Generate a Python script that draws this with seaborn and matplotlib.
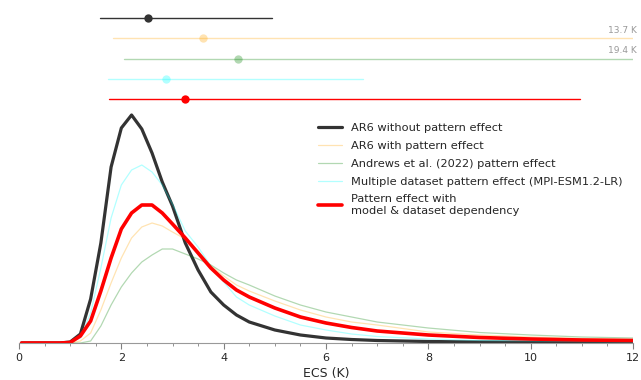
import seaborn as sns
import pandas as pd
import numpy as np
import matplotlib.pyplot as plt

sns.set_style("white")

# ECS grid (K) and pdfs (arbitrary units)
ecs = [0.05, 0.8, 1.0, 1.2, 1.4, 1.6, 1.8, 2.0, 2.2, 2.4, 2.6, 2.8, 3.0, 3.25, 3.5,
       3.75, 4.0, 4.25, 4.5, 5.0, 5.5, 6.0, 6.5, 7.0, 8.0, 9.0, 10.0, 11.0, 12.0]
ar6_no_pattern = [0, 0, 1, 9, 44, 100, 176, 215, 228, 214, 190, 161, 137, 100, 73,
                  51, 38, 28, 21, 13, 8, 5, 3.5, 2.5, 1.5, 1, 0.8, 0.6, 0.5]
ar6_pattern = [0, 0, 0, 2, 10, 33, 60, 85, 105, 116, 120, 117, 111, 104, 92,
               77, 67, 58, 52, 42, 33, 26, 21, 18, 11, 8, 6, 4.5, 3.5]
andrews = [0, 0, 0, 0, 2, 17, 38, 56, 70, 81, 88, 94, 94, 89, 84,
           78, 70, 63, 58, 47, 38, 31, 26, 21, 15, 10.5, 8, 6, 5]
multi_dataset = [0, 0, 0.5, 5, 30, 75, 125, 158, 173, 178, 171, 158, 139, 112, 96,
                 77, 61, 46, 38, 27, 18, 13, 9, 6.5, 4, 2.5, 2, 1.5, 1]
model_dataset = [0, 0, 0.5, 7, 22, 52, 85, 114, 130, 138, 138, 130, 119, 105, 90,
                 75, 63, 53, 46, 35, 26, 20, 15.5, 12, 8, 5.5, 4, 3, 2.5]

labels = ["AR6 without pattern effect",
          "AR6 with pattern effect",
          "Andrews et al. (2022) pattern effect",
          "Multiple dataset pattern effect (MPI-ESM1.2-LR)",
          "Pattern effect with\nmodel & dataset dependency"]

# median and 5-95% ranges (K)
medians = [2.52, 3.59, 4.28, 2.87, 3.24]
lows = [1.58, 1.84, 2.05, 1.74, 1.76]
highs = [4.94, 13.7, 19.4, 6.72, 10.96]

colors = ["#333333", "orange", "green", "cyan", "red"]
alphas = [1, 0.3, 0.3, 0.3, 1]
widths = [2.3, 0.9, 0.9, 0.9, 2.6]

df = pd.DataFrame({"ecs": ecs, labels[0]: ar6_no_pattern, labels[1]: ar6_pattern,
                   labels[2]: andrews, labels[3]: multi_dataset, labels[4]: model_dataset})
df = df.melt(id_vars="ecs", var_name="case", value_name="pdf")

fig = plt.figure(figsize=(6.41, 3.80), dpi=100)
ax = fig.add_axes([19/641, 37/380, 614/641, 233/380])
ax_top = fig.add_axes([19/641, 271/380, 614/641, 101/380], sharex=ax)

for lab, c, a, w in zip(labels, colors, alphas, widths):
    sns.lineplot(data=df[df["case"] == lab], x="ecs", y="pdf", color=c, alpha=a,
                 lw=w, label=lab, ax=ax)

ax.set_xlim(0, 12)
ax.set_ylim(0, 233)
ax.set_xticks(np.arange(0, 13, 2))
ax.set_xticks(np.arange(0, 12.5, 0.5), minor=True)
ax.tick_params(axis="x", which="major", bottom=True, length=4, color="0.5",
               labelsize=8, pad=3)
ax.tick_params(axis="x", which="minor", bottom=True, length=2, color="0.5")
ax.set_yticks([])
ax.set_ylabel("")
ax.set_xlabel("ECS (K)", fontsize=9, labelpad=3)
for s in ["left", "right", "top"]:
    ax.spines[s].set_visible(False)
ax.spines["bottom"].set_color("0.6")

leg = ax.legend(loc="upper left", bbox_to_anchor=(0.4797, 0.962), frameon=False,
                fontsize=8.2, handlelength=2.1, labelspacing=0.68, borderaxespad=0)

# ranges on top
for i in range(5):
    ax_top.plot([lows[i], highs[i]], [i, i], color=colors[i], alpha=alphas[i], lw=1)
    ax_top.plot(medians[i], i, "o", color=colors[i], alpha=alphas[i], ms=6, mec="none")
    if highs[i] > 12:
        ax_top.text(12.07, i - 0.17, f"{highs[i]} K", color="0.6", fontsize=6.5,
                    ha="right", va="bottom", clip_on=False)
ax_top.set_ylim(4.5, -0.5)
ax_top.set_xlim(0, 12)
ax_top.axis("off")

fig.savefig("out.png", dpi=100)
